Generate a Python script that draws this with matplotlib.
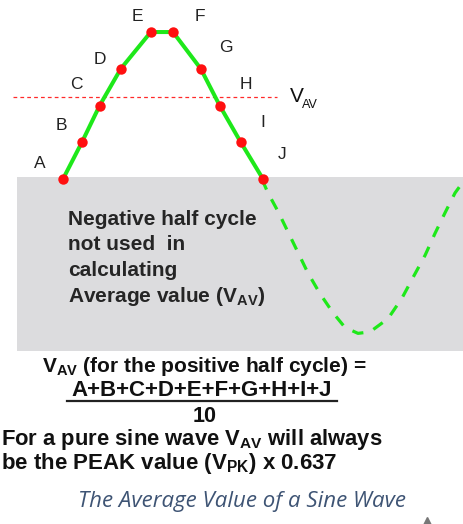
import matplotlib.pyplot as plt
from matplotlib.patches import Rectangle

plt.rcParams['font.family'] = ['Liberation Sans', 'DejaVu Sans']
plt.rcParams['mathtext.fontset'] = 'custom'
plt.rcParams['mathtext.rm'] = 'Liberation Sans'
plt.rcParams['mathtext.bf'] = 'Liberation Sans:bold'

# positive half cycle sample points (phase in degrees, level relative to peak)
point_labels = ['A', 'B', 'C', 'D', 'E', 'F', 'G', 'H', 'I', 'J']
point_phase = [0, 17, 33, 52, 79, 99, 124, 141, 160, 180]
point_level = [0, 0.25, 0.5, 0.75, 1.0, 1.0, 0.75, 0.5, 0.25, 0]

# negative half cycle
neg_phase = [179, 184.5, 193.5, 202.5, 211.5, 220.5, 231.3, 243, 253.8, 265.5,
             276.3, 292.5, 305.1, 315, 325.8, 334.8, 343.8, 352.8, 359]
neg_level = [0, -0.095, -0.22, -0.36, -0.5, -0.64, -0.78, -0.91, -1.01, -1.05,
             -1.04, -0.95, -0.81, -0.67, -0.52, -0.37, -0.23, -0.095, -0.03]

v_av = 0.56
v_av_span = (-45, 193)

# label offsets from each point, in points
label_offsets = [(-17, 11), (-15, 12), (-17, 15), (-15, 7), (-10, 11),
                 (19, 11), (18, 15), (19, 15), (16, 14), (14, 18)]

GREEN = '#1ee81a'
RED = '#ff1010'

fig = plt.figure(figsize=(4.63, 5.24), dpi=100)
ax = fig.add_axes([0, 0, 1, 1])
ax.set_xlim(-56.7, 360)
ax.set_ylim(-2.347, 1.218)
ax.axis('off')

# grey panel behind negative half
ax.add_patch(Rectangle((0.037, 0.330), 0.963, 0.332, transform=ax.transAxes,
                       facecolor='#dcdcde', edgecolor='none', zorder=0))

ax.plot(neg_phase, neg_level, color=GREEN, lw=2.3, dashes=(3.6, 3.4), zorder=2)
ax.plot(point_phase, point_level, color=GREEN, lw=2.9, zorder=3)
ax.plot(point_phase, point_level, 'o', color=RED, ms=7.5, mec='none', zorder=4)

ax.plot(v_av_span, [v_av, v_av], color='#ff2a2a', lw=0.9, dashes=(3, 2.5), zorder=2)
ax.text(v_av_span[1] + 11, v_av, 'V', fontsize=15, va='center', ha='left', color='#111111')
ax.text(v_av_span[1] + 22.5, v_av - 0.055, 'AV', fontsize=9, va='center', ha='left',
        color='#111111')

for lab, x, y, off in zip(point_labels, point_phase, point_level, label_offsets):
    ax.annotate(lab, (x, y), xytext=off, textcoords='offset points',
                ha='center', va='center', fontsize=12.5, color='#222222')

box_text = ['Negative half cycle', 'not used  in', 'calculating',
            r'Average value (V$_{\mathbf{AV}}$)']
for i, line in enumerate(box_text):
    fig.text(68 / 463, 1 - (219 + 26 * i) / 524, line, fontsize=15,
             fontweight='bold', color='#252525', va='center', ha='left')

fig.text(42 / 463, 1 - 367 / 524, r'V$_{\mathbf{AV}}$ (for the positive half cycle) =',
         fontsize=15, fontweight='bold', color='#111111', va='center', ha='left')
fig.text(202 / 463, 1 - 391 / 524, 'A+B+C+D+E+F+G+H+I+J', fontsize=16,
         fontweight='bold', color='#111111', va='center', ha='center')
ax.plot([0.145, 0.728], [1 - 401 / 524, 1 - 401 / 524], transform=ax.transAxes,
        color='#222222', lw=1.6)
fig.text(205 / 463, 1 - 417 / 524, '10', fontsize=15.5, fontweight='bold',
         color='#111111', va='center', ha='center')
fig.text(1 / 463, 1 - 440 / 524, r'For a pure sine wave V$_{\mathbf{AV}}$ will always',
         fontsize=15.8, fontweight='bold', color='#111111', va='center', ha='left')
fig.text(1 / 463, 1 - 463 / 524, r'be the PEAK value (V$_{\mathbf{PK}}$) x 0.637',
         fontsize=16, fontweight='bold', color='#111111', va='center', ha='left')

fig.text(242 / 463, 1 - 502 / 524, 'The Average Value of a Sine Wave',
         fontsize=16, style='italic', family='Open Sans', color='#3e5474',
         va='center', ha='center')
ax.plot([0.922], [0.002], marker='^', ms=9, color='#777777',
        transform=ax.transAxes, clip_on=False)

fig.savefig('out.png', dpi=100)
